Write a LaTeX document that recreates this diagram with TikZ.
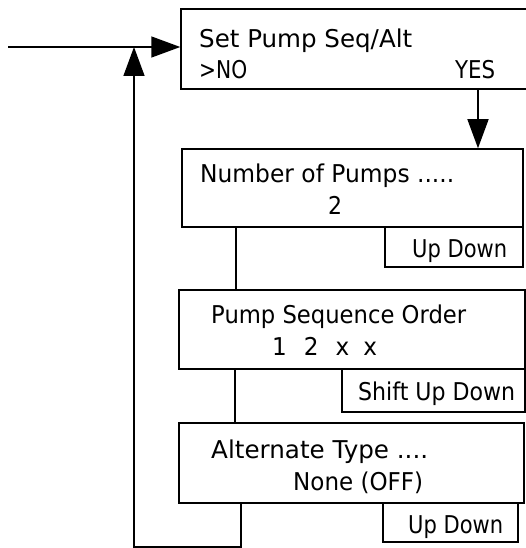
\documentclass[tikz,border=0pt]{standalone}
\usepackage{fontspec}
\usepackage{graphicx}
\setmainfont{DejaVu Sans}
\usetikzlibrary{arrows.meta}
\newcommand{\fitw}[2]{\resizebox{#1}{\height}{#2}}
\tikzset{
  box/.style={draw=black, line width=1.5pt, rectangle, inner sep=0pt, fill=none},
  lbl/.style={anchor=base west, inner sep=0pt, font=\fontsize{24.5}{29}\selectfont},
  wire/.style={draw=black, line width=1.5pt},
  arr/.style={wire, -{Triangle[length=29pt, width=21pt]}},
}
\begin{document}
\begin{tikzpicture}[x=1pt, y=-1pt]
\useasboundingbox (0,0) rectangle (526,548);
\fill[white] (0,0) rectangle (526,548);
\clip (0,0) rectangle (526,548);

% boxes
\node[box, minimum width=359pt, minimum height=80pt] (b1) at (360.5,49) {};
\node[box, minimum width=341pt, minimum height=78pt] (b2) at (352.5,188) {};
\node[box, minimum width=138pt, minimum height=40pt] (k2) at (454,247) {};
\node[box, minimum width=346pt, minimum height=79pt] (b3) at (352,329.5) {};
\node[box, minimum width=183pt, minimum height=43pt] (k3) at (433.5,390.5) {};
\node[box, minimum width=345pt, minimum height=80pt] (b4) at (351.5,463) {};
\node[box, minimum width=135pt, minimum height=39pt] (k4) at (450.5,522.5) {};

% texts
\node[lbl] (t1a) at (199,48) {\fitw{213pt}{Set Pump Seq/Alt}};
\node[lbl] (t1b) at (199,79) {\fitw{48pt}{>NO}};
\node[lbl] (t1c) at (455,79) {\fitw{40pt}{YES}};
\node[lbl] (t2a) at (200,182) {\fitw{254pt}{Number of Pumps .....}};
\node[lbl] (t2b) at (328,214) {\fitw{14pt}{2}};
\node[lbl] (t2k) at (412,257) {\fitw{95pt}{Up Down}};
\node[lbl] (t3a) at (211,323) {\fitw{255pt}{Pump Sequence Order}};
\node[lbl] (t3b) at (272,355) {\fitw{105pt}{1\hspace{18pt}2\hspace{18pt}x\hspace{15pt}x}};
\node[lbl] (t3k) at (358,400) {\fitw{157pt}{Shift Up Down}};
\node[lbl] (t4a) at (211,458) {\fitw{217pt}{Alternate Type ....}};
\node[lbl] (t4b) at (293,490) {\fitw{130pt}{None (OFF)}};
\node[lbl] (t4k) at (408,533) {\fitw{95pt}{Up Down}};

% helper coordinates
\coordinate (in) at (8,47);
\coordinate (yx) at (478,0);
\coordinate (c23) at (236,0);
\coordinate (c34) at (235,0);
\coordinate (l1) at (241,547);
\coordinate (l2) at (134,547);

% connectors
\draw[arr] (in) -- (in -| b1.west);
\draw[arr] (b1.south -| yx) -- (b2.north -| yx);
\draw[wire] (b2.south -| c23) -- (b3.north -| c23);
\draw[wire] (b3.south -| c34) -- (b4.north -| c34);
\draw[arr] (b4.south -| l1) -- (l1) -- (l2) -- (l2 |- in);
\end{tikzpicture}
\end{document}
